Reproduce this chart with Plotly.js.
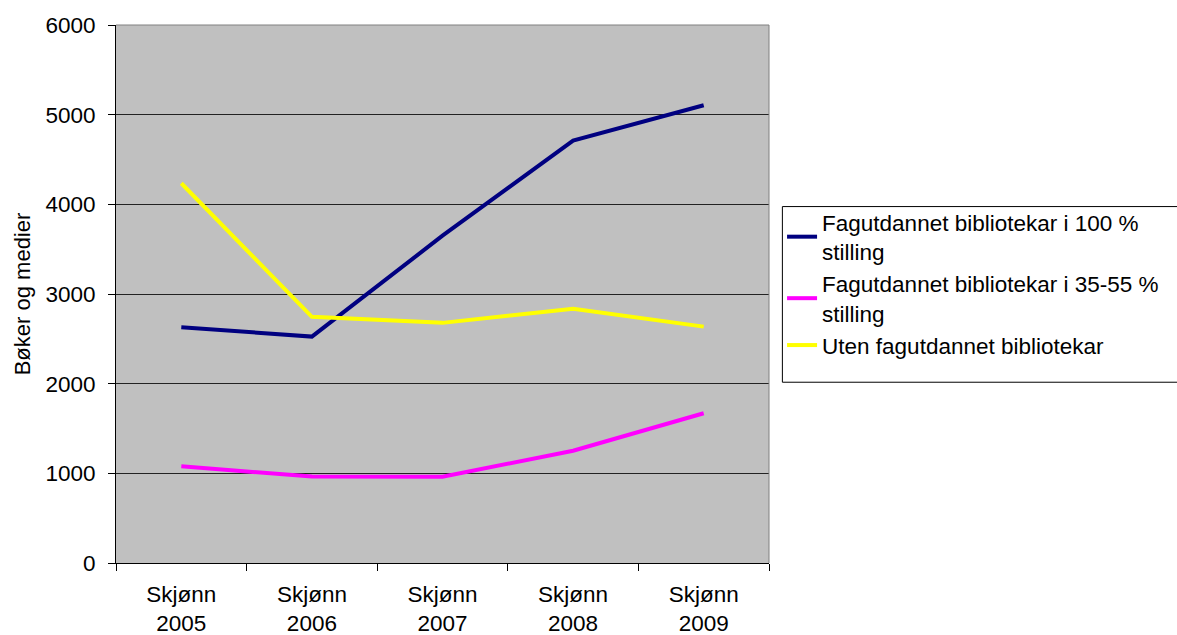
<!DOCTYPE html>
<html>
<head>
<meta charset="utf-8">
<script src="https://cdn.plot.ly/plotly-3.0.1.min.js"></script>
<style>html,body{margin:0;padding:0;background:#fff;}#chart{width:1177px;height:635px;}</style>
</head>
<body>
<div id="chart"></div>
<script>
const categories = ["Skjønn<br>2005", "Skjønn<br>2006", "Skjønn<br>2007", "Skjønn<br>2008", "Skjønn<br>2009"];
const full100 = [2630, 2525, 3650, 4710, 5105];
const part3555 = [1078, 965, 962, 1252, 1670];
const utenFag = [4235, 2745, 2678, 2835, 2636];
const seriesNames = ["Fagutdannet bibliotekar i 100 %<br>stilling", "Fagutdannet bibliotekar i 35-55 %<br>stilling", "Uten fagutdannet bibliotekar"];
const yTicks = [0, 1000, 2000, 3000, 4000, 5000, 6000];

const fam = "Liberation Sans, Arial, sans-serif";
const fs = 22.5;
const traces = [
  {x: categories, y: full100, name: seriesNames[0], type: "scatter", mode: "lines", line: {color: "#000080", width: 4}},
  {x: categories, y: part3555, name: seriesNames[1], type: "scatter", mode: "lines", line: {color: "#ff00ff", width: 4}},
  {x: categories, y: utenFag, name: seriesNames[2], type: "scatter", mode: "lines", line: {color: "#ffff00", width: 4}}
];
const layout = {
  width: 1177, height: 635,
  margin: {l: 116, r: 408, t: 25, b: 72, pad: 0},
  paper_bgcolor: "#fff",
  plot_bgcolor: "#c0c0c0",
  font: {family: fam, size: fs, color: "#000"},
  showlegend: true,
  legend: {x: 1.02, xanchor: "left", y: 0.673, yanchor: "top", font: {family: fam, size: fs, color: "#000"},
    bgcolor: "rgba(0,0,0,0)", borderwidth: 0, tracegroupgap: 0, itemwidth: 30},
  xaxis: {
    type: "category", tickson: "boundaries", ticks: "outside", ticklen: 7, tickcolor: "#000",
    showline: true, linecolor: "#000", linewidth: 1, showgrid: false, zeroline: false,
    tickfont: {family: fam, size: fs, color: "#000"}, range: [-0.5, 4.5], ticklabelstandoff: 11
  },
  yaxis: {
    range: [0, 6000], tickvals: yTicks, ticks: "outside", ticklen: 7, tickcolor: "#000",
    showline: true, linecolor: "#000", linewidth: 1, showgrid: true, gridcolor: "#222", gridwidth: 1,
    zeroline: false, tickfont: {family: fam, size: fs, color: "#000"}, ticklabelstandoff: 8,
    title: {text: "Bøker og medier", font: {family: fam, size: 22, color: "#000"}, standoff: 8}
  },
  shapes: [
    {type: "rect", xref: "paper", yref: "paper", x0: 1.0205, x1: 1.63, y0: 0.336, y1: 0.6625, line: {color: "#000", width: 1}, fillcolor: "rgba(0,0,0,0)"},
    {type: "line", xref: "paper", yref: "paper", x0: 1, x1: 1, y0: 0, y1: 1, line: {color: "#808080", width: 1}},
    {type: "line", xref: "paper", yref: "paper", x0: 0, x1: 1, y0: 1, y1: 1, line: {color: "#808080", width: 1}}
  ]
};
Plotly.newPlot("chart", traces, layout, {displayModeBar: false, staticPlot: true});
</script>
</body>
</html>
